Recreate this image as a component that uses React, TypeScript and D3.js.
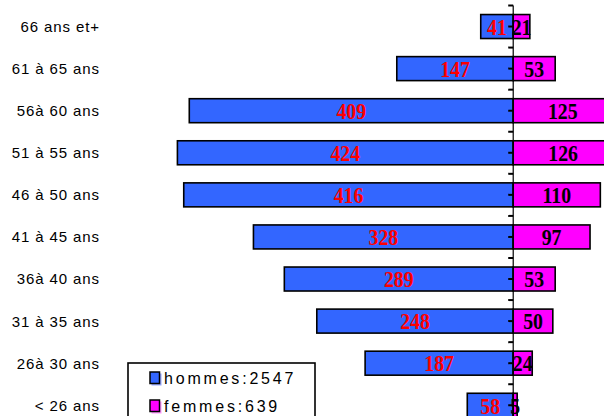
import React from 'react';
import * as d3 from 'd3';

const ageGroups = [
  '66 ans et+',
  '61 à 65 ans',
  '56à 60 ans',
  '51 à 55 ans',
  '46 à 50 ans',
  '41 à 45 ans',
  '36à 40 ans',
  '31 à 35 ans',
  '26à 30 ans',
  '< 26 ans'
];
const hommes = [41, 147, 409, 424, 416, 328, 289, 248, 187, 58];
const femmes = [21, 53, 125, 126, 110, 97, 53, 50, 24, 5];
const legendLabels = ['hommes:2547', 'femmes:639'];

const WIDTH = 604;
const HEIGHT = 416;
const BLUE = '#3366FF';
const MAGENTA = '#FF00FF';

export default function App() {
  // axe central vers x = 513
  const xScale = d3.scaleLinear().domain([-648, 114]).range([0, 603.5]);

  const yScale = d3
    .scaleBand<string>()
    .domain(ageGroups)
    .range([5.5, 426.3])
    .paddingInner(0.43)
    .paddingOuter(0.215);

  const step = yScale.step();
  const x0 = xScale(0);

  // graduations : limites et milieux des classes
  const ticks: number[] = [];
  ageGroups.forEach(g => {
    const c = (yScale(g) || 0) + yScale.bandwidth() / 2;
    ticks.push(c - step / 2, c);
  });
  ticks.push(ticks[ticks.length - 1] + step / 2);

  const valueFont = '"Liberation Serif", "Times New Roman", serif';
  const labelFont = '"Liberation Sans", Arial, sans-serif';

  const valueText = (cx: number, cy: number, v: number, color: string) => (
    <text
      transform={`translate(${cx},${cy}) scale(0.86,1)`}
      dy="0.36em"
      textAnchor="middle"
      fontFamily={valueFont}
      fontWeight="bold"
      fontSize={23}
      fill={color}
    >
      {v}
    </text>
  );

  return (
    <svg
      width={WIDTH}
      height={HEIGHT}
      style={{ position: 'absolute', left: 0, top: 0, background: '#fff' }}
    >
      {/* libellés des classes d'âge */}
      {ageGroups.map(g => (
        <text
          key={g}
          x={100}
          y={(yScale(g) || 0) + yScale.bandwidth() / 2}
          dy="0.36em"
          textAnchor="end"
          fontFamily={labelFont}
          fontSize={15}
          letterSpacing={0.9}
          fill="#000"
        >
          {g}
        </text>
      ))}

      {/* barres hommes */}
      {ageGroups.map((g, i) => {
        const y = yScale(g) || 0;
        const xl = xScale(-hommes[i]);
        return (
          <g key={'h' + g}>
            <rect
              x={xl}
              y={y}
              width={x0 - xl}
              height={yScale.bandwidth()}
              fill={BLUE}
              stroke="#000"
              strokeWidth={1.6}
            />
            {valueText((xl + x0) / 2, y + yScale.bandwidth() / 2, hommes[i], '#FF0000')}
          </g>
        );
      })}

      {/* barres femmes */}
      {ageGroups.map((g, i) => {
        const y = yScale(g) || 0;
        const xr = xScale(femmes[i]);
        return (
          <g key={'f' + g}>
            <rect
              x={x0}
              y={y}
              width={xr - x0}
              height={yScale.bandwidth()}
              fill={MAGENTA}
              stroke="#000"
              strokeWidth={1.6}
            />
            {valueText((x0 + xr) / 2, y + yScale.bandwidth() / 2, femmes[i], '#000')}
          </g>
        );
      })}

      {/* axe vertical */}
      <line x1={x0} x2={x0} y1={ticks[0]} y2={HEIGHT} stroke="#000" strokeWidth={1.2} />
      {ticks.map((t, i) => (
        <line key={i} x1={x0 - 5} x2={x0} y1={t} y2={t} stroke="#000" strokeWidth={2} />
      ))}

      {/* légende */}
      <rect x={128} y={363} width={187} height={70} fill="#fff" stroke="#000" strokeWidth={1.6} />
      {legendLabels.map((l, i) => (
        <g key={l} transform={`translate(150, ${372 + i * 28})`}>
          <rect x={1.5} y={1.5} width={10} height={12} fill={i === 0 ? '#99AAFF' : '#FF99FF'} />
          <rect x={0} y={0} width={9.5} height={11.5} fill={i === 0 ? BLUE : MAGENTA} stroke="#000" strokeWidth={1.5} />
          <text
            x={14}
            y={12}
            fontFamily={labelFont}
            fontSize={16}
            letterSpacing={2.8}
            fill="#000"
          >
            {l}
          </text>
        </g>
      ))}
    </svg>
  );
}
